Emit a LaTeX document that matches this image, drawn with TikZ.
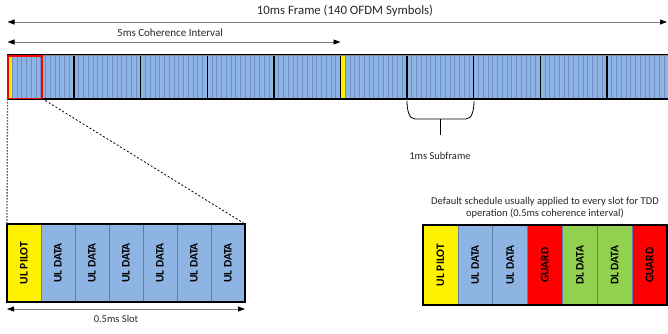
\documentclass[tikz,border=0pt]{standalone}
\usepackage{fontspec}
\setmainfont{Carlito}
\usetikzlibrary{arrows.meta}
\definecolor{cellblue}{HTML}{8EB4E3}
\definecolor{sepblue}{HTML}{6F8FC4}
\definecolor{cellline}{HTML}{5F7FAA}
\definecolor{dlgreen}{HTML}{92D050}
\definecolor{arrgray}{HTML}{7F7F7F}
\begin{document}
\begin{tikzpicture}[x=1pt,y=-1pt,
  subfr/.style={draw=black,line width=1.3pt,fill=cellblue,minimum width=66.6pt,minimum height=44pt,inner sep=0pt,anchor=north west,outer sep=0pt},
  lcell/.style={draw=cellline,line width=0.6pt,fill=cellblue,minimum width=34pt,minimum height=78pt,inner sep=0pt,anchor=north west,outer sep=0pt,font=\fontsize{11.5}{13}\selectfont\bfseries},
  rcell/.style={draw=cellline,line width=0.6pt,fill=cellblue,minimum width=34.86pt,minimum height=80pt,inner sep=0pt,anchor=north west,outer sep=0pt,font=\fontsize{11.5}{13}\selectfont\bfseries},
  dimarrow/.style={draw=arrgray,line width=0.8pt,{Triangle[length=7pt,width=5pt,fill=black,color=black]}-{Triangle[length=7pt,width=5pt,fill=black,color=black]}},
  lbl/.style={font=\fontsize{10.5}{12}\selectfont,inner sep=0pt,text=black!85}
]
\useasboundingbox (0,0) rectangle (668,333);
\clip (0,0) rectangle (668,333);

% labels and dimension arrows on top
\node[lbl,font=\fontsize{12.8}{15}\selectfont] (ftitle) at (345,11) {10ms Frame (140 OFDM Symbols)};
\coordinate (fl) at (7.5,22);
\coordinate (fr) at (667,22);
\draw[dimarrow] (fl) -- (fr);
\node[lbl,font=\fontsize{11}{13}\selectfont] (ctitle) at (170,33) {5ms Coherence Interval};
\coordinate (cl) at (7.5,42);
\coordinate (cr) at (340.5,42);
\draw[dimarrow] (cl) -- (cr);

% subframes
\foreach \i in {1,...,10} {
  \node[subfr] (sf\i) at ({7.5+66.6*(\i-1)},55) {};
}
% pilots
\fill[yellow] (7.5,55) rectangle (12.3,99);
\fill[yellow] (340.5,55) rectangle (345.3,99);
% symbol separators
\foreach \k in {1,...,139} {
  \pgfmathtruncatemacro{\r}{mod(\k,14)}
  \ifnum\r=0\else
    \draw[sepblue,line width=0.8pt] ({7.5+\k*4.757},56) -- ({7.5+\k*4.757},98);
  \fi
}
% subframe borders
\foreach \i in {1,...,10} {
  \draw[black,line width=1.3pt] (sf\i.north west) rectangle (sf\i.south east);
}
\draw[black!45,line width=1pt] (sf1.north west) -- (sf10.north east);
% slot highlight
\node[inner sep=0pt,minimum width=33.5pt,minimum height=42pt,anchor=north west] (slot) at (8,56) {};
\draw[red,line width=1.8pt] (slot.north west) rectangle (slot.south east);

% brace under subframe 7
\coordinate (bl) at (407,101);
\coordinate (br) at (474,101);
\coordinate (bs) at (440.5,119);
\coordinate (be) at (440.5,135);
\draw[black,line width=0.8pt] (bl) .. controls (407,110) and (409,119) .. (415,119) -- (466,119) .. controls (472,119) and (474,110) .. (br);
\draw[black,line width=0.8pt] (bs) -- (be);
\node[lbl] (sflabel) at (440,156) {1ms Subframe};

% left slot detail
\node[lcell,fill=yellow] (l1) at (7,224) {\rotatebox{90}{UL PILOT}};
\foreach \i in {2,...,7} {
  \node[lcell] (l\i) at ({7+34*(\i-1)},224) {\rotatebox{90}{UL DATA}};
}
\draw[black,line width=1.5pt] (l1.north west) rectangle (l7.south east);
\coordinate (sl) at (7,309);
\coordinate (sr) at (245,309);
\draw[dimarrow] (sl) -- (sr);
\node[lbl] (slotlabel) at (116,319) {0.5ms Slot};

% zoom connectors
\coordinate (zl) at (7.5,99);
\draw[black!65,line width=1.3pt,dash pattern=on 1.5pt off 1.5pt] (zl) -- (l1.north west);
\draw[black,line width=0.8pt,dash pattern=on 2pt off 2pt] (slot.south east) -- (l7.north east);

% right default schedule
\node[lbl,align=center] (sched) at (545,208) {Default schedule usually applied to every slot for TDD\\operation (0.5ms coherence interval)};
\node[rcell,fill=yellow] (r1) at (423,225) {\rotatebox{90}{UL PILOT}};
\node[rcell] (r2) at ({423+34.86},225) {\rotatebox{90}{UL DATA}};
\node[rcell] (r3) at ({423+34.86*2},225) {\rotatebox{90}{UL DATA}};
\node[rcell,fill=red] (r4) at ({423+34.86*3},225) {\rotatebox{90}{GUARD}};
\node[rcell,fill=dlgreen] (r5) at ({423+34.86*4},225) {\rotatebox{90}{DL DATA}};
\node[rcell,fill=dlgreen] (r6) at ({423+34.86*5},225) {\rotatebox{90}{DL DATA}};
\node[rcell,fill=red] (r7) at ({423+34.86*6},225) {\rotatebox{90}{GUARD}};
\draw[black,line width=1.5pt] (r1.north west) rectangle (r7.south east);
\end{tikzpicture}
\end{document}
